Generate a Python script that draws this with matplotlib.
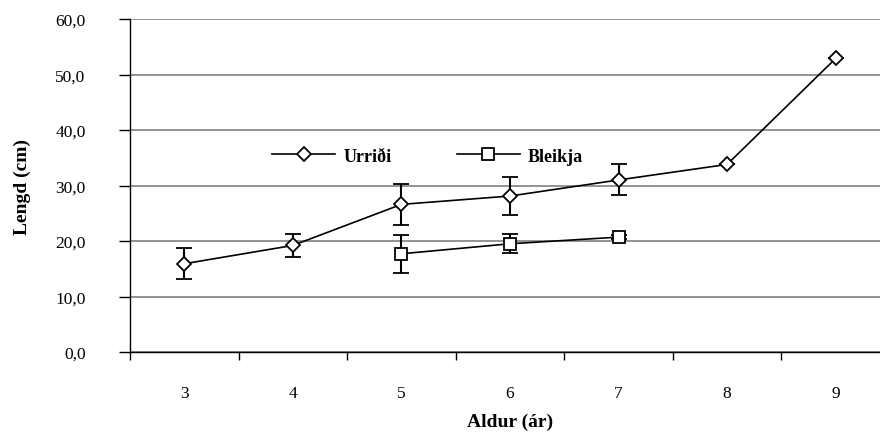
"""Lengd urriða og bleikju eftir aldri."""

import numpy as np
import matplotlib
matplotlib.use("Agg")
import matplotlib.pyplot as plt
from matplotlib.lines import Line2D

plt.rcParams["font.family"] = ["Liberation Serif", "DejaVu Serif"]

# aldur (ár)
ages = [3, 4, 5, 6, 7, 8, 9]

# Urriði: meðallengd og staðalfrávik (cm)
urridi_len = [15.9, 19.2, 26.6, 28.1, 31.0, 33.8, 52.9]
urridi_err = [2.8, 2.0, 3.7, 3.5, 2.8, 0.0, 0.0]

# Bleikja: aldur 5-7
bleikja_ages = [5, 6, 7]
bleikja_len = [17.7, 19.5, 20.7]
bleikja_err = [3.4, 1.75, 0.4]

y_ticks = [0, 10, 20, 30, 40, 50, 60]
y_ticklabels = ["0,0", "10,0", "20,0", "30,0", "40,0", "50,0", "60,0"]

fig = plt.figure(figsize=(8.8, 4.35), dpi=100)
# axes runs a bit past the right edge, like the cropped original
ax = fig.add_axes([130 / 880, 82 / 435, 760 / 880, 333 / 435])

err_kw = dict(ecolor="black", elinewidth=1.5, capsize=6, capthick=1.5)
ur_style = dict(color="black", lw=1.2, marker="D", ms=7, mfc="white",
                mec="black", mew=1.3)
bl_style = dict(color="black", lw=1.2, marker="s", ms=8, mfc="white",
                mec="black", mew=1.3)
ax.errorbar(ages, urridi_len, yerr=urridi_err, zorder=3, **ur_style, **err_kw)
ax.errorbar(bleikja_ages, bleikja_len, yerr=bleikja_err, zorder=3,
            **bl_style, **err_kw)

ax.set_xlim(2.5, 9.5)
ax.set_ylim(0, 60)
ax.set_yticks(y_ticks)
ax.set_yticklabels(y_ticklabels)
ax.set_xticks(ages)
ax.set_xticks(np.arange(2.5, 10, 1), minor=True)
ax.tick_params(axis="x", which="major", length=0, pad=24, labelsize=12.5)
ax.tick_params(axis="x", which="minor", length=6, width=1, direction="out")
ax.tick_params(axis="y", length=8, width=1, direction="out", pad=24,
               labelsize=12.5)

ax.grid(axis="y", color="#808080", lw=1.2)
ax.set_axisbelow(True)
for side in ["top", "right"]:
    ax.spines[side].set_visible(False)
for side in ["left", "bottom"]:
    ax.spines[side].set_color("black")
    ax.spines[side].set_linewidth(1.0)

handles = [Line2D([], [], **ur_style), Line2D([], [], **bl_style)]
ax.legend(handles, ["Urriði", "Bleikja"], loc="center left",
          bbox_to_anchor=((272 - 130) / 760, (353 - 157) / 333), ncol=2,
          frameon=False, borderpad=0, borderaxespad=0, handlelength=3.5,
          handletextpad=0.45, columnspacing=3.6,
          prop=dict(weight="bold", size=13))

fig.text(22 / 880, 1 - 187 / 435, "Lengd (cm)", rotation=90, ha="center",
         va="center", fontsize=14, fontweight="bold")
fig.text(510 / 880, 1 - 422 / 435, "Aldur (ár)", ha="center", va="center",
         fontsize=14, fontweight="bold")

fig.savefig("out.png", dpi=100)
